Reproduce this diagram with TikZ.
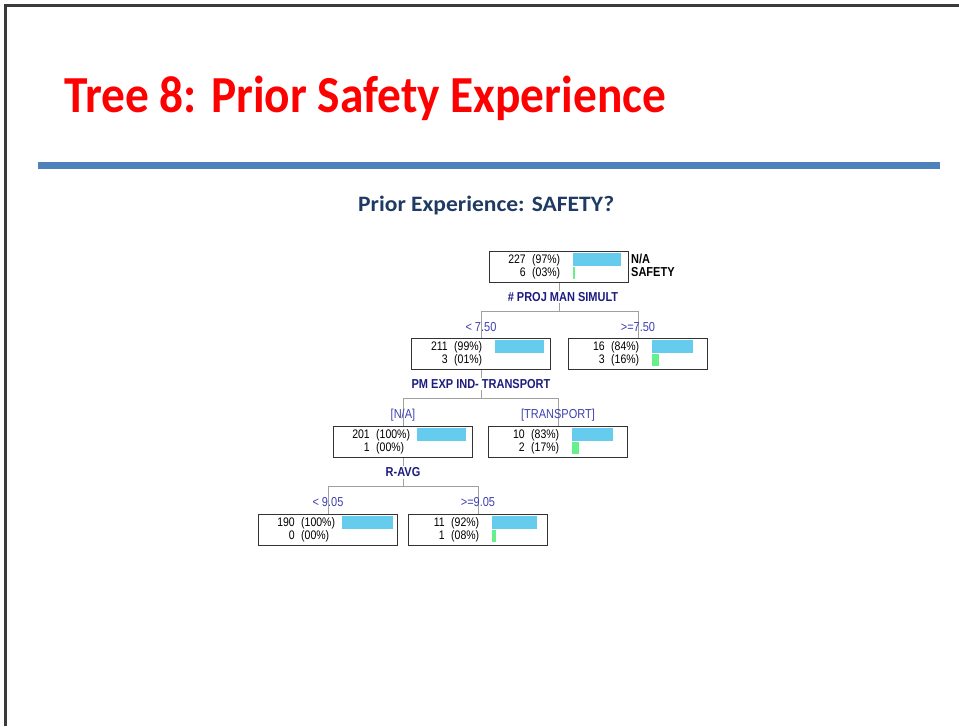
\documentclass[tikz,border=0pt]{standalone}
\usepackage{fontspec}
\setmainfont{Liberation Sans}
\newfontfamily\calibri{Carlito}
\usetikzlibrary{backgrounds}

\definecolor{titlered}{HTML}{FF0000}
\definecolor{rulecol}{HTML}{4F81BD}
\definecolor{subnavy}{HTML}{1F3B63}
\definecolor{barblue}{HTML}{66CCEE}
\definecolor{bargreen}{HTML}{66F08C}
\definecolor{splitnavy}{HTML}{1C1C80}
\definecolor{branchblue}{HTML}{4040B0}
\definecolor{linkgray}{HTML}{A0A0A0}
\definecolor{framegray}{HTML}{3A3A3A}

% slightly taller lettering for the tree texts
\newcommand\tall[1]{\scalebox{1}[1.18]{#1}}

\tikzset{
  treebox/.style={draw=black!80, line width=0.9pt, minimum width=139pt,
    minimum height=31pt, inner sep=0pt, anchor=north west},
  num/.style={font=\fontsize{10.5}{12}\selectfont, inner sep=0pt},
  classlabel/.style={font=\fontsize{11}{12}\selectfont\bfseries, inner sep=0pt, anchor=base west},
  splitlabel/.style={font=\fontsize{11}{12}\selectfont\bfseries, text=splitnavy,
    fill=white, inner sep=1.5pt},
  branchlabel/.style={font=\fontsize{11}{12}\selectfont, text=branchblue, inner sep=1pt},
  link/.style={draw=linkgray, line width=0.8pt},
}

% #1 name, #2 left, #3 top, #4/#5 first class count and percent,
% #6/#7 second class count and percent, #8 blue bar length, #9 green bar length
\newcommand\statbox[9]{%
  \node[treebox] (#1) at (#2,#3) {};
  \node[num, anchor=base east] at ([shift={(37,12)}]#1.north west) {\tall{#4}};
  \node[num, anchor=base west] at ([shift={(43,12)}]#1.north west) {\tall{(#5\%)}};
  \node[num, anchor=base east] at ([shift={(37,25)}]#1.north west) {\tall{#6}};
  \node[num, anchor=base west] at ([shift={(43,25)}]#1.north west) {\tall{(#7\%)}};
  \fill[barblue] ([shift={(84,2)}]#1.north west) rectangle ++(#8,12.5);
  \ifdim #9pt>0pt \fill[bargreen] ([shift={(84,16)}]#1.north west) rectangle ++(#9,12);\fi
}

\begin{document}
\begin{tikzpicture}[x=1pt, y=-1pt]
  \useasboundingbox (0,0) rectangle (959,726);

  % slide frame and header rule
  \draw[framegray, line width=2.5pt] (5.5,726) -- (5.5,5.5) -- (959,5.5);
  \fill[rulecol] (38,162) rectangle (940,169);

  % headings
  \node[anchor=base west, inner sep=0pt, text=titlered] (title) at (64,112)
    {\resizebox{602pt}{\height}{\calibri\bfseries\fontsize{52}{60}\selectfont Tree 8: Prior Safety Experience}};
  \node[anchor=base west, inner sep=0pt, text=subnavy] (subtitle) at (358,211)
    {\resizebox{256pt}{\height}{\calibri\bfseries\fontsize{22}{26}\selectfont Prior Experience: SAFETY?}};

  % tree nodes
  \statbox{root}{489}{251}{227}{97}{6}{03}{48}{1.5}
  \statbox{ba}{411}{338}{211}{99}{3}{01}{48.5}{0}
  \statbox{bb}{568}{338}{16}{84}{3}{16}{41}{7}
  \statbox{bc}{333}{426}{201}{100}{1}{00}{49}{0}
  \statbox{bd}{488}{426}{10}{83}{2}{17}{40.5}{7}
  \statbox{be}{258}{514}{190}{100}{0}{00}{50.5}{0}
  \statbox{bf}{408}{514}{11}{92}{1}{08}{45}{4}

  \node[classlabel] (clsA) at (631,263) {\tall{N/A}};
  \node[classlabel] (clsB) at (631,276.5) {\tall{SAFETY}};

  % junctions of the splits
  \coordinate (j1) at (root.south |- 0,311);
  \coordinate (j2) at (ba.south |- 0,398);
  \coordinate (j3) at (bc.south |- 0,486);

  \begin{pgfonlayer}{background}
    \fill[white] (0,0) rectangle (959,726);
    \draw[link] (root.south) -- (j1) -| (ba.north);
    \draw[link] (j1) -| (bb.north);
    \draw[link] (ba.south) -- (j2) -| (bc.north);
    \draw[link] (j2) -| (bd.north);
    \draw[link] (bc.south) -- (j3) -| (be.north);
    \draw[link] (j3) -| (bf.north);
  \end{pgfonlayer}

  % split variables
  \node[splitlabel] (s1) at (563,297) {\tall{\# PROJ MAN SIMULT}};
  \node[splitlabel] (s2) at (481,384) {\tall{PM EXP IND- TRANSPORT}};
  \node[splitlabel] (s3) at (403,472.5) {\tall{R-AVG}};

  % branch conditions
  \node[branchlabel] (c1) at (ba.north |- 0,327) {\tall{< 7.50}};
  \node[branchlabel] (c2) at (bb.north |- 0,327) {\tall{>=7.50}};
  \node[branchlabel] (c3) at (bc.north |- 0,415) {\tall{[N/A]}};
  \node[branchlabel] (c4) at (bd.north |- 0,415) {\tall{[TRANSPORT]}};
  \node[branchlabel] (c5) at (be.north |- 0,502.5) {\tall{< 9.05}};
  \node[branchlabel] (c6) at (bf.north |- 0,502.5) {\tall{>=9.05}};
\end{tikzpicture}
\end{document}
